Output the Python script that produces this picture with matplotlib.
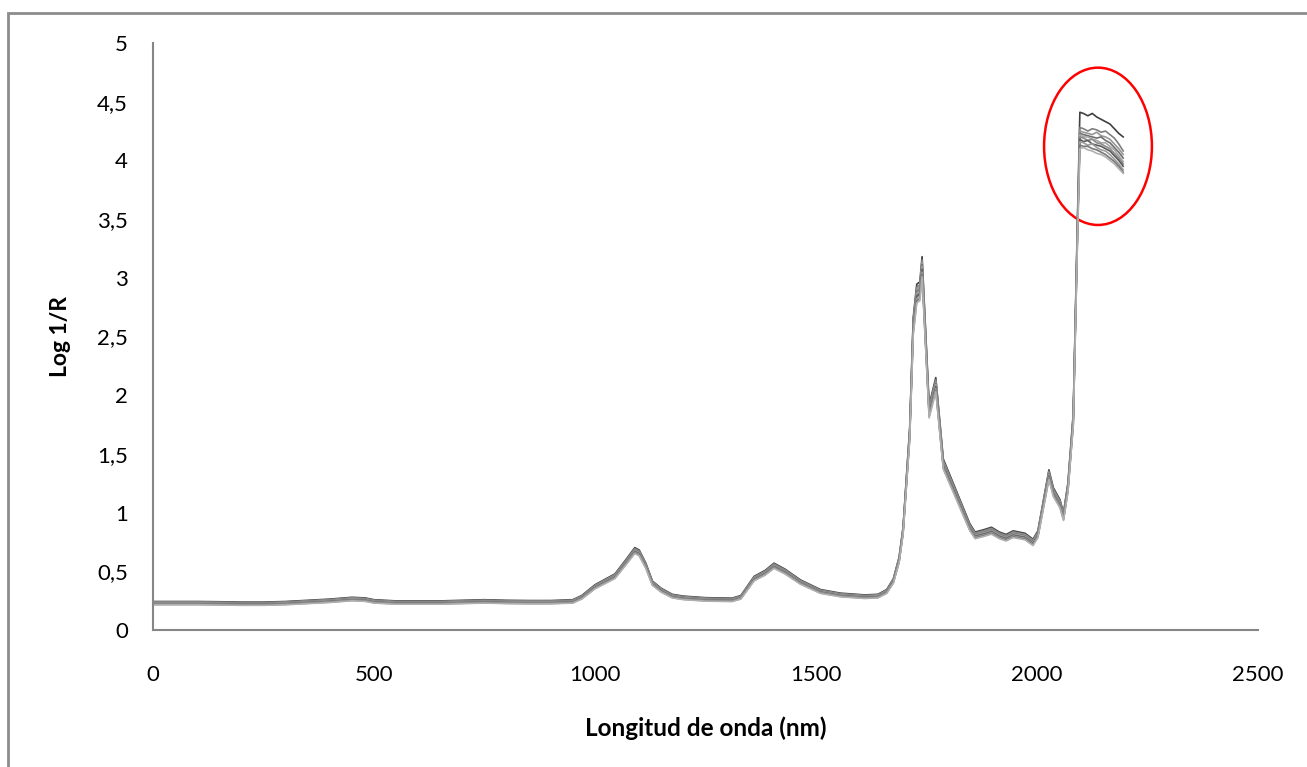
import matplotlib
matplotlib.use("Agg")
import matplotlib.pyplot as plt
import numpy as np
from matplotlib.patches import Ellipse, Rectangle
from matplotlib.ticker import FuncFormatter

plt.rcParams["font.family"] = ["Lato", "DejaVu Sans"]

# ── data ────────────────────────────────────────────────────────────────────
# common body of the spectra (wavelength nm, log 1/R)
body_wl = [0, 50, 100, 150, 200, 250, 300, 350, 400, 450, 480, 500, 550, 600,
           650, 700, 750, 800, 850, 900, 950, 970, 1000, 1025, 1045, 1070,
           1090, 1100, 1115, 1130, 1150, 1175, 1200, 1250, 1310, 1330, 1360,
           1385, 1405, 1430, 1465, 1510, 1555, 1610, 1640, 1660, 1675, 1688,
           1697, 1712, 1720, 1728, 1735, 1740, 1756, 1771, 1788, 1848, 1860,
           1880, 1897, 1915, 1930, 1946, 1973, 1991, 2002, 2027, 2037, 2052,
           2060, 2070, 2082, 2092]
body_val = [0.23, 0.23, 0.23, 0.228, 0.225, 0.225, 0.23, 0.24, 0.25, 0.265,
            0.26, 0.245, 0.235, 0.235, 0.235, 0.24, 0.245, 0.24, 0.238, 0.238,
            0.245, 0.28, 0.37, 0.42, 0.46, 0.58, 0.68, 0.66, 0.55, 0.40, 0.34,
            0.29, 0.275, 0.262, 0.258, 0.28, 0.44, 0.49, 0.55, 0.50, 0.41,
            0.33, 0.30, 0.285, 0.29, 0.33, 0.42, 0.60, 0.85, 1.68, 2.6, 2.88,
            2.9, 3.11, 1.87, 2.10, 1.42, 0.88, 0.81, 0.83, 0.85, 0.81, 0.79,
            0.82, 0.80, 0.75, 0.82, 1.33, 1.18, 1.08, 0.97, 1.22, 1.8, 3.5]

# spread of each sample around the common body
sample_shift = [0.02, 0.012, 0.006, 0.0, -0.004, -0.008, -0.012, -0.018,
                -0.024, -0.03]
sample_offset = [0.008, 0.006, 0.004, 0.002, 0.0, -0.002, -0.004, -0.005,
                 -0.007, -0.008]

# plateau at the end of the range, one row per sample
plateau_wl = [2097, 2105, 2115, 2125, 2135, 2145, 2155, 2165, 2175, 2185, 2195]
plateau_val = [
    [4.41, 4.40, 4.38, 4.40, 4.37, 4.35, 4.33, 4.31, 4.27, 4.23, 4.20],
    [4.28, 4.27, 4.25, 4.27, 4.26, 4.24, 4.25, 4.22, 4.19, 4.14, 4.08],
    [4.25, 4.24, 4.23, 4.22, 4.24, 4.21, 4.20, 4.18, 4.14, 4.10, 4.05],
    [4.23, 4.22, 4.21, 4.20, 4.19, 4.20, 4.17, 4.15, 4.11, 4.07, 4.02],
    [4.22, 4.20, 4.20, 4.18, 4.17, 4.15, 4.15, 4.12, 4.09, 4.04, 3.99],
    [4.20, 4.19, 4.17, 4.18, 4.15, 4.14, 4.12, 4.10, 4.06, 4.02, 3.97],
    [4.18, 4.16, 4.17, 4.14, 4.13, 4.12, 4.10, 4.08, 4.04, 4.00, 3.95],
    [4.16, 4.15, 4.13, 4.14, 4.11, 4.09, 4.08, 4.05, 4.01, 3.97, 3.92],
    [4.13, 4.12, 4.12, 4.10, 4.09, 4.07, 4.05, 4.02, 3.99, 3.95, 3.90],
    [4.10, 4.11, 4.09, 4.08, 4.06, 4.05, 4.03, 4.00, 3.97, 3.93, 3.89],
]

line_colors = ["#404040", "#7f7f7f", "#969696", "#6e6e6e", "#a6a6a6",
               "#8a8a8a", "#5a5a5a", "#9c9c9c", "#777777", "#b0b0b0"]

# ── plot ────────────────────────────────────────────────────────────────────
fig = plt.figure(figsize=(13.07, 7.67), dpi=100)
ax = fig.add_axes([153 / 1307, 1 - 630 / 767, 1105 / 1307, 587 / 767])

# outer chart border (left + top visible)
fig.patches.append(Rectangle((8 / 1307, -0.1), 1.2, 1 - 13 / 767 + 0.1,
                             transform=fig.transFigure, fill=False,
                             ec="#8c8c8c", lw=2))

for shift, off, plat, col in zip(sample_shift, sample_offset, plateau_val,
                                 line_colors):
    y = list(np.array(body_val) * (1 + shift) + off) + plat
    x = body_wl + plateau_wl
    ax.plot(x, y, color=col, lw=1.2)

ax.add_patch(Ellipse((2138, 4.12), 244, 1.34, fill=False, ec="red", lw=1.8))

ax.set_xlim(0, 2500)
ax.set_ylim(0, 5)
ax.set_xticks(np.arange(0, 2501, 500))
ax.set_yticks(np.arange(0, 5.01, 0.5))
ax.yaxis.set_major_formatter(FuncFormatter(lambda v, p: f"{v:g}".replace(".", ",")))

for s in ["top", "right"]:
    ax.spines[s].set_visible(False)
for s in ["left", "bottom"]:
    ax.spines[s].set_color("#868686")
    ax.spines[s].set_linewidth(1.5)

ax.tick_params(axis="both", length=0, labelsize=16)
ax.tick_params(axis="y", pad=18)
ax.tick_params(axis="x", pad=25)

ax.set_xlabel("Longitud de onda (nm)", fontsize=17.5, fontweight="bold")
ax.set_ylabel("Log 1/R", fontsize=16.5, fontweight="bold")
ax.xaxis.set_label_coords(0.5, -0.147)
ax.yaxis.set_label_coords(-0.074, 0.5)

fig.savefig("out.png", dpi=100)
plt.close(fig)
